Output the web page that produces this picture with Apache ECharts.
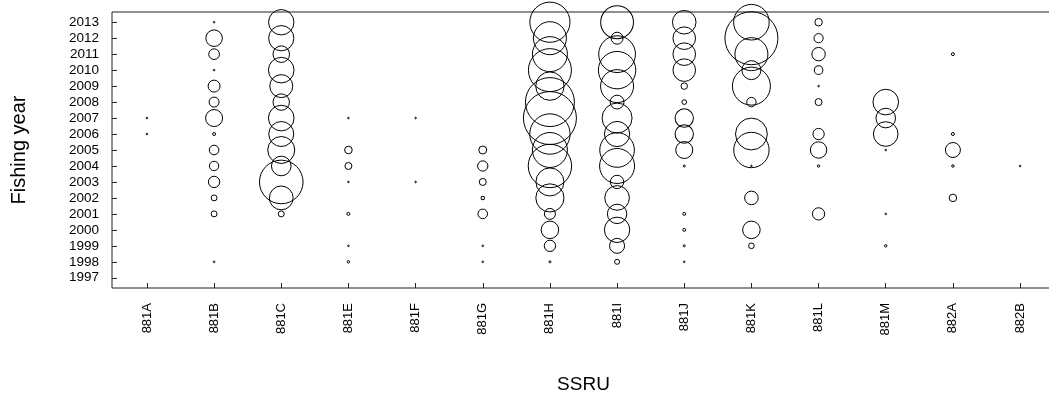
<!DOCTYPE html>
<html>
<head>
<meta charset="utf-8">
<script src="https://cdn.jsdelivr.net/npm/echarts@6/dist/echarts.min.js"></script>
<style>
html,body{margin:0;padding:0;background:#fff;}
#chart{width:1049px;height:397px;}
</style>
</head>
<body>
<div id="chart"></div>
<script>
// Categories (SSRU) and fishing years
const ssru = ['881A','881B','881C','881E','881F','881G','881H','881I','881J','881K','881L','881M','882A','882B'];
const years = [1997,1998,1999,2000,2001,2002,2003,2004,2005,2006,2007,2008,2009,2010,2011,2012,2013];

// Bubble values per SSRU, one entry per year 1997..2013 (null = no catch)
const c881A = [null,null,null,null,null,null,null,null,null,0.5,0.5,null,null,null,null,null,null];
const c881B = [null,0.5,null,null,12,12,38,27,28,4,81,30,42,0.5,34,77,1.7];
const c881C = [null,null,null,null,12,154,497,106,196,169,177,76,144,177,77,172,174];
const c881E = [null,3,0.5,null,4,null,0.5,16,18.5,null,0.5,null,null,null,null,null,null];
const c881F = [null,null,null,null,null,null,0.5,null,null,null,0.5,null,null,null,null,null,null];
const c881G = [null,0.5,0.5,null,28,5,16,32,20,null,null,null,null,null,null,null,null];
const c881H = [null,2.3,38,86,36,213,210,493,324,428,729,625,216,484,324,289,424];
const c881I = [null,9,64,174,104,164,52,324,317,172,240,55,289,369,357,42,286];
const c881J = [null,0.5,2.3,4,4,null,null,2.3,81,94,94,8,14,139,139,139,151];
const c881K = [null,null,11,86,null,53,null,0.5,331,269,null,27,380,100,289,729,335];
const c881L = [null,null,null,null,44,null,null,3,76,38,null,16,0.5,23,52,26,18];
const c881M = [null,null,3,null,0.5,null,null,null,0.5,164,106,177,null,null,null,null,null];
const c882A = [null,null,null,null,null,18,null,3,64,4,null,null,null,null,4,null,null];
const c882B = [null,null,null,null,null,null,null,0.5,null,null,null,null,null,null,null,null,null];

const allSeries = [c881A,c881B,c881C,c881E,c881F,c881G,c881H,c881I,c881J,c881K,c881L,c881M,c882A,c882B];

const points = [];
allSeries.forEach(function(arr, i){
  arr.forEach(function(v, j){
    if (v !== null) points.push([i + 1, years[j], v]);
  });
});

const chart = echarts.init(document.getElementById('chart'), null, {renderer:'canvas'});
const font = 'Liberation Sans, Arial, sans-serif';
chart.setOption({
  animation: false,
  backgroundColor: '#fff',
  grid: {
    left: 112, top: 12, width: 943, height: 276,
    show: true, borderColor: '#222', borderWidth: 1,
    containLabel: false, outerBoundsMode: 'none'
  },
  xAxis: {
    type: 'value',
    min: 0.48, max: 14.52,
    name: 'SSRU', nameLocation: 'middle', nameGap: 87,
    nameTextStyle: {fontFamily: font, fontSize: 19, color: '#000'},
    axisLine: {show: false},
    splitLine: {show: false},
    axisTick: {show: true, inside: true, length: 5, lineStyle: {color: '#222'},
      customValues: ssru.map(function(s, i){ return i + 1; })},
    axisLabel: {show: true, rotate: 90, margin: 15, fontFamily: font, fontSize: 13, color: '#000',
      customValues: ssru.map(function(s, i){ return i + 1; }),
      formatter: function(v){ return ssru[Math.round(v) - 1] || ''; }}
  },
  yAxis: {
    type: 'value',
    min: 1996.36, max: 2013.64,
    name: 'Fishing year', nameLocation: 'middle', nameGap: 83,
    nameTextStyle: {fontFamily: font, fontSize: 20, color: '#000'},
    axisLine: {show: false},
    splitLine: {show: false},
    axisTick: {show: true, inside: true, length: 5, lineStyle: {color: '#222'},
      customValues: years},
    axisLabel: {show: true, margin: 13, fontFamily: font, fontSize: 13.5, color: '#000',
      customValues: years,
      formatter: function(v){ return String(Math.round(v)); }}
  },
  series: [{
    type: 'scatter',
    clip: true,
    data: points,
    symbol: 'circle',
    symbolSize: function(d){ return Math.max(1.6, 2 * Math.sqrt(d[2]) - 1); },
    itemStyle: {color: 'rgba(0,0,0,0)', borderColor: '#000', borderWidth: 1, opacity: 1},
    emphasis: {disabled: true}
  }]
});
</script>
</body>
</html>
